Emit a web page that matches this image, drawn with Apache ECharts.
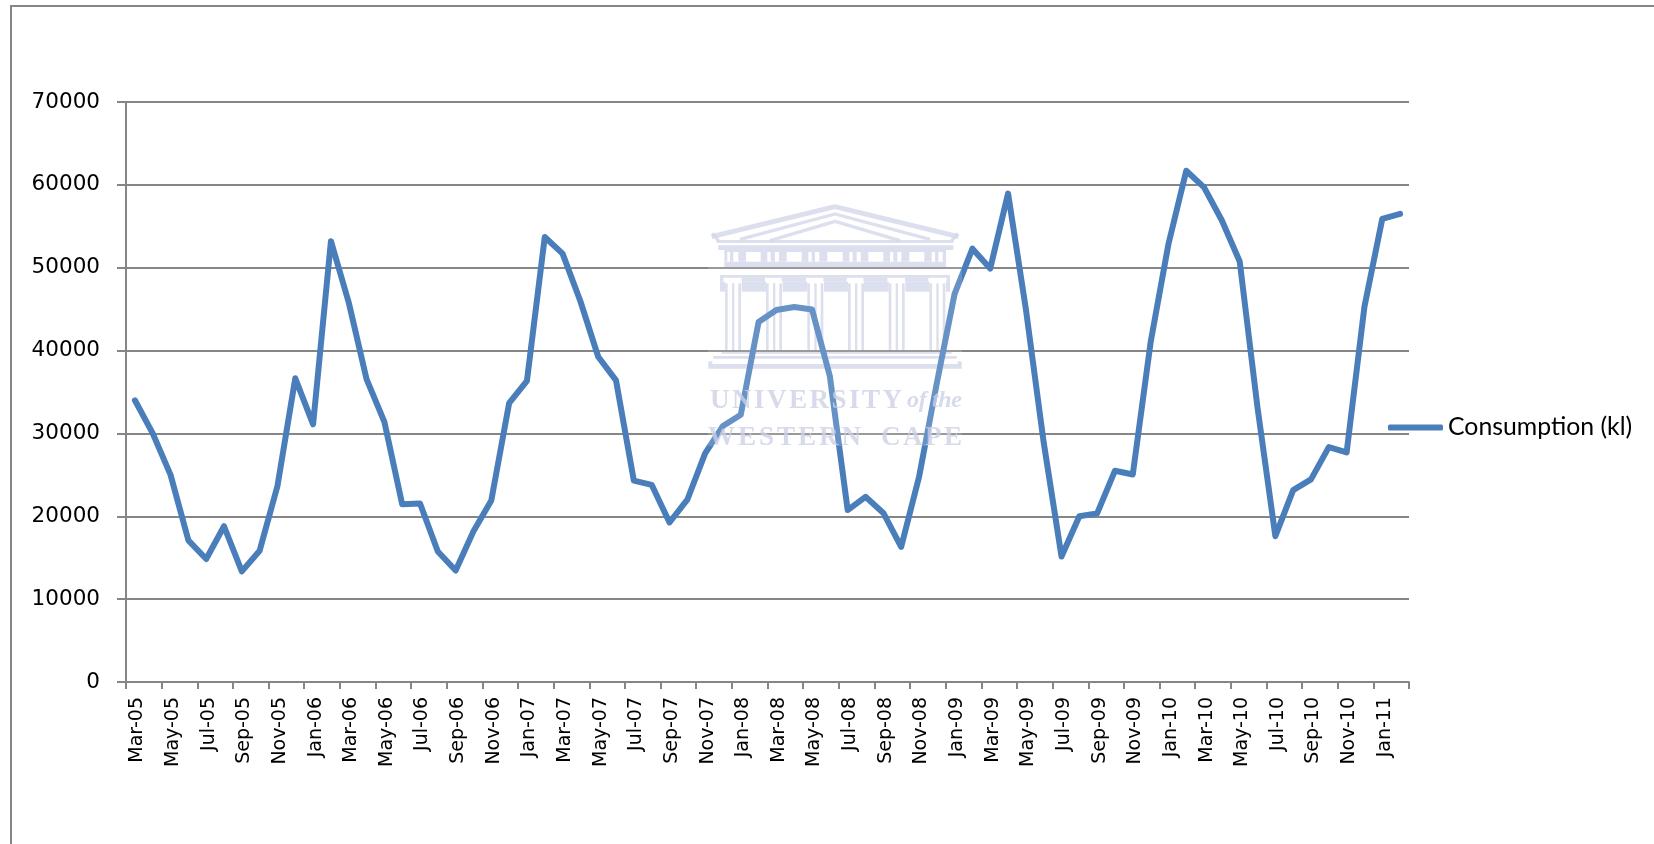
<!DOCTYPE html>
<html>
<head>
<meta charset="utf-8">
<style>
  html, body { margin: 0; padding: 0; background: #fff; }
  #chart { width: 1654px; height: 844px; }
</style>
<script src="https://cdn.jsdelivr.net/npm/echarts@6/dist/echarts.min.js"></script>
</head>
<body>
<div id="chart"></div>
<script>
// Monthly water consumption, March 2005 to February 2011
const categories = [
  'Mar-05','Apr-05','May-05','Jun-05','Jul-05','Aug-05','Sep-05','Oct-05','Nov-05','Dec-05',
  'Jan-06','Feb-06','Mar-06','Apr-06','May-06','Jun-06','Jul-06','Aug-06','Sep-06','Oct-06','Nov-06','Dec-06',
  'Jan-07','Feb-07','Mar-07','Apr-07','May-07','Jun-07','Jul-07','Aug-07','Sep-07','Oct-07','Nov-07','Dec-07',
  'Jan-08','Feb-08','Mar-08','Apr-08','May-08','Jun-08','Jul-08','Aug-08','Sep-08','Oct-08','Nov-08','Dec-08',
  'Jan-09','Feb-09','Mar-09','Apr-09','May-09','Jun-09','Jul-09','Aug-09','Sep-09','Oct-09','Nov-09','Dec-09',
  'Jan-10','Feb-10','Mar-10','Apr-10','May-10','Jun-10','Jul-10','Aug-10','Sep-10','Oct-10','Nov-10','Dec-10',
  'Jan-11','Feb-11'
];
const consumption = [
  34000,30000,25000,17100,14850,18800,13350,15850,23650,36650,
  31100,53200,45800,36550,31400,21450,21550,15750,13450,18200,21900,33650,
  36350,53700,51700,45950,39250,36400,24300,23800,19250,22000,27600,30900,
  32250,43450,44900,45250,44950,36900,20750,22350,20400,16300,24700,36050,
  46850,52300,49900,58950,45000,28900,15150,20000,20350,25500,25050,41000,
  52850,61700,59700,55700,50750,33100,17600,23150,24450,28350,27700,45300,
  55900,56500
];
const seriesName = 'Consumption (kl)';
const yTicks = { min: 0, max: 70000, interval: 10000 };

const GREY = '#868686';
const BLUE = '#4a7ebb';
const CREST = 'rgba(204,208,229,0.8)';
const CREST_TEXT = 'rgba(204,208,229,0.78)';

// Frieze row of the crest: solid stretches between the windows and slits
const friezeRuns = [[133,142],[150,160],[175,198],[242,262],[272,285],[297,320],[365,385],[395,405],
  [418,442],[488,508],[518,530],[542,565],[610,630],[640,652],[664,688],[733,755],[765,775],[788,798]];
// Capital row and wall row between the six columns
const capitalRuns = [[120,130],[185,255],[305,378],[430,500],[550,622],[675,745],[800,810]];
const wallRuns = [[120,135],[185,258],[308,382],[432,504],[552,626],[676,748],[798,810]];
const columnStarts = [135, 258, 382, 504, 626, 748];

// University crest, built in a local grid at one third of a pixel per unit
function crestBuilding() {
  const els = [];
  const roof = (pts, w) => els.push({ type: 'polyline', shape: { points: pts },
    style: { fill: null, stroke: CREST, lineWidth: w, lineJoin: 'round' } });
  const bar = (x, y, w, h) => els.push({ type: 'rect', shape: { x, y, width: w, height: h },
    style: { fill: CREST } });

  roof([[95, 140], [465, 50], [835, 140]], 15);
  roof([[180, 148], [465, 72], [750, 148]], 10);
  roof([[270, 152], [465, 94], [660, 152]], 10);
  roof([[97, 130], [115, 152]], 10);
  roof([[833, 130], [815, 152]], 10);
  bar(110, 150, 710, 9);
  bar(115, 166, 705, 14);
  bar(133, 180, 665, 6);
  friezeRuns.forEach(r => bar(r[0], 186, r[1] - r[0], 29));
  bar(133, 215, 665, 18);
  bar(120, 255, 690, 8);
  capitalRuns.forEach(r => bar(r[0], 263, r[1] - r[0], 12));
  wallRuns.forEach(r => bar(r[0], 275, r[1] - r[0], 30));
  columnStarts.forEach(x => {
    bar(x, 280, 8, 200);
    bar(x + 21, 280, 7, 200);
    bar(x + 40, 280, 8, 200);
  });
  bar(125, 483, 690, 8);
  bar(100, 498, 730, 8);
  bar(85, 514, 12, 10);
  bar(833, 514, 12, 10);
  bar(85, 522, 760, 14);
  return els;
}

// Lays a caption out letter by letter so that it fills a given width
function spacedCaption(text, x, y, width, fontSize, fontStyle) {
  const font = fontStyle + ' ' + fontSize + 'px "Liberation Serif"';
  const ctx = document.createElement('canvas').getContext('2d');
  ctx.font = font;
  const letters = Array.from(text);
  const widths = letters.map(c => ctx.measureText(c).width);
  const used = widths.reduce((a, b) => a + b, 0);
  const gap = (width - used) / (letters.length - 1);
  let cursor = x;
  return letters.map((c, i) => {
    const el = { type: 'text', z: 10, x: cursor, y,
      style: { text: c, fill: CREST_TEXT, font } };
    cursor += widths[i] + gap;
    return el;
  });
}

const chart = echarts.init(document.getElementById('chart'), null, { renderer: 'canvas' });
chart.setOption({
  animation: false,
  backgroundColor: '#fff',
  grid: { left: 126, right: 245, top: 102, bottom: 162, containLabel: false },
  legend: {
    show: true,
    left: 1388,
    top: 415,
    padding: 0,
    icon: 'roundRect',
    itemWidth: 55,
    itemHeight: 6,
    data: [seriesName],
    itemStyle: { color: BLUE },
    textStyle: { fontFamily: 'Lato', fontSize: 24.8, color: '#000' }
  },
  xAxis: {
    type: 'category',
    data: categories,
    boundaryGap: true,
    axisLine: { lineStyle: { color: GREY, width: 2 } },
    axisTick: { show: true, interval: 1, length: 7, lineStyle: { color: GREY, width: 2 } },
    axisLabel: {
      interval: 1, rotate: 90, margin: 15, fontFamily: 'DejaVu Sans', fontSize: 19,
      color: '#000', showMinLabel: true, verticalAlign: 'top', lineHeight: 5
    }
  },
  yAxis: {
    type: 'value',
    min: yTicks.min,
    max: yTicks.max,
    interval: yTicks.interval,
    axisLine: { show: true, lineStyle: { color: GREY, width: 2 } },
    axisTick: { show: true, length: 9, lineStyle: { color: GREY, width: 2 } },
    axisLabel: {
      margin: 26, fontFamily: 'DejaVu Sans', fontSize: 21.5, color: '#000',
      padding: [10, 0, 0, 0], formatter: v => String(v)
    },
    splitLine: { show: true, lineStyle: { color: GREY, width: 2 } }
  },
  series: [{
    name: seriesName,
    type: 'line',
    data: consumption,
    symbol: 'none',
    lineStyle: { color: BLUE, width: 6, cap: 'round', join: 'round' },
    itemStyle: { color: BLUE }
  }],
  graphic: [
    // Outer chart frame, running off the right and bottom edges of the page
    { type: 'rect', z: 0, shape: { x: 11, y: 6, width: 1700, height: 900 },
      style: { fill: null, stroke: GREY, lineWidth: 2 } },
    // Pale veil of the crest image over the plot
    { type: 'rect', z: 10, shape: { x: 708, y: 200, width: 254, height: 246 },
      style: { fill: 'rgba(255,255,255,0.16)' } },
    { type: 'group', z: 10, x: 680, y: 190, scaleX: 1 / 3, scaleY: 1 / 3, children: crestBuilding() },
    ...spacedCaption('UNIVERSITY', 710, 388, 192, 27, 'bold'),
    ...spacedCaption('of the', 907, 389, 55, 24, 'italic bold'),
    ...spacedCaption('WESTERN', 708, 425, 153, 27, 'bold'),
    ...spacedCaption('CAPE', 881, 425, 81, 27, 'bold')
  ]
});
</script>
</body>
</html>
